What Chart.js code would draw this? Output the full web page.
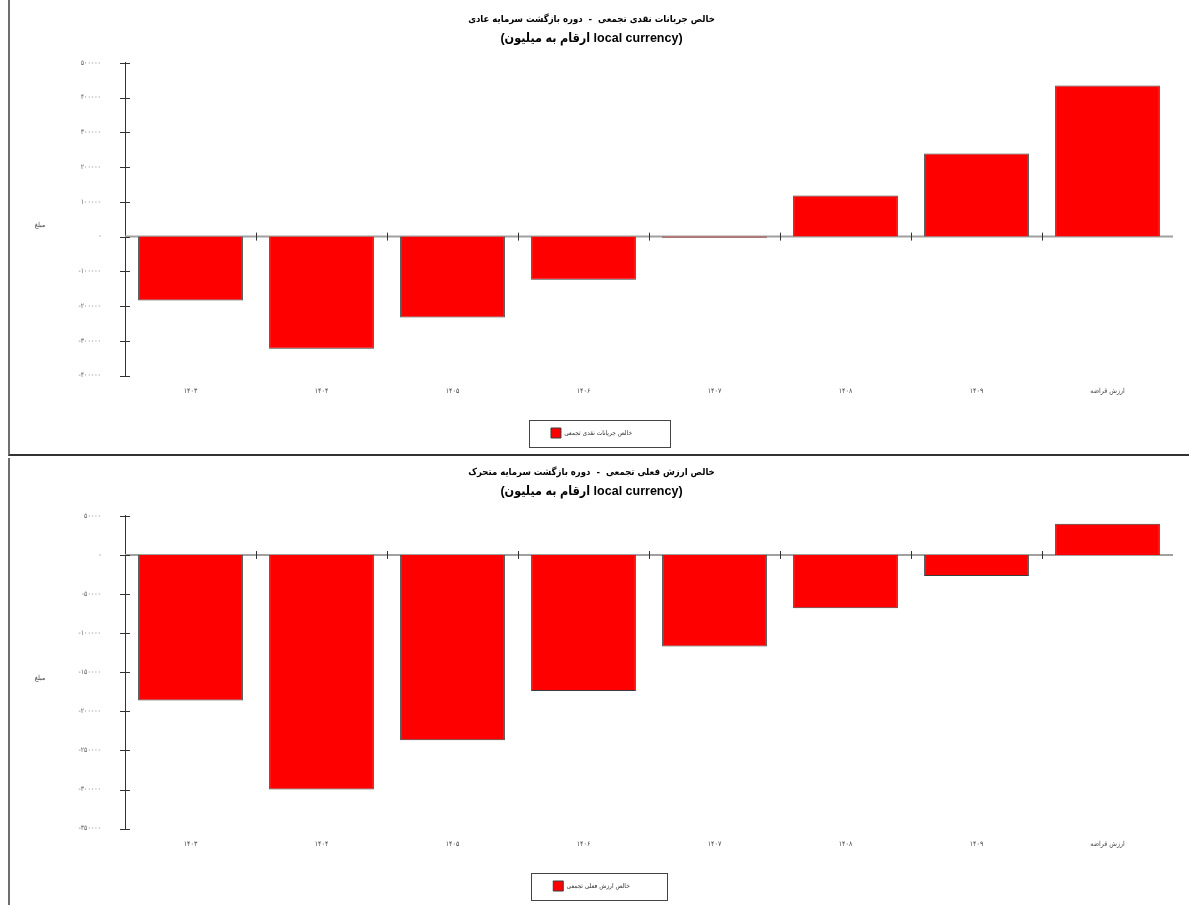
<!DOCTYPE html>
<html>
<head>
<meta charset="utf-8">
<script src="https://cdn.jsdelivr.net/npm/chart.js@4.4.0/dist/chart.umd.min.js"></script>
<style>
  html, body { margin: 0; padding: 0; background: #fff; }
  body { width: 1189px; height: 905px; position: relative; overflow: hidden; }
  .panel { position: absolute; left: 8px; width: 1181px; border-left: 2px solid #6e6e6e; }
  #p1 { top: 0; height: 454px; border-bottom: 2px solid #333; }
  #p2 { top: 458px; height: 447px; overflow: hidden; }
  .panel canvas { position: absolute; left: 0; }
</style>
</head>
<body>
<div class="panel" id="p1"><canvas id="chartTop"></canvas></div>
<div class="panel" id="p2"><canvas id="chartBottom"></canvas></div>
<script>
// categories (years + salvage value)
const categories = ['۱۴۰۳', '۱۴۰۴', '۱۴۰۵', '۱۴۰۶', '۱۴۰۷', '۱۴۰۸', '۱۴۰۹', 'ارزش قراضه'];

// cumulative net cash flow (simple payback)
const cashFlowValues = [-184000, -323000, -233000, -124000, -3000, 118000, 239000, 435000];
// cumulative net present value (dynamic payback)
const npvValues = [-186000, -300000, -237000, -174000, -117000, -68000, -27000, 40000];

const topTitle = 'خالص جریانات نقدی تجمعی  -  دوره بازگشت سرمایه عادی';
const bottomTitle = 'خالص ارزش فعلی تجمعی  -  دوره بازگشت سرمایه متحرک';
const unitsLine = '(ارقام به میلیون local currency)';
const topLegend = 'خالص جریانات نقدی تجمعی';
const bottomLegend = 'خالص ارزش فعلی تجمعی';
const yAxisLabel = 'مبلغ';

const faFont = '"DejaVu Sans Condensed", "DejaVu Sans", sans-serif';
const mixFont = '"Liberation Sans", "DejaVu Sans Condensed", "DejaVu Sans", sans-serif';

function toFa(n) {
    return String(Math.abs(n)).replace(/\d/g, d => '۰۱۲۳۴۵۶۷۸۹'[d]);
}

// zero line, crossing tick marks, axis label and legend frame
const decorPlugin = {
    id: 'decor',
    beforeDatasetsDraw(chart) {
        const ctx = chart.ctx, a = chart.chartArea;
        const zero = chart.scales.y.getPixelForValue(0);
        ctx.save();
        ctx.strokeStyle = '#a0a0a0';
        ctx.lineWidth = 2;
        ctx.beginPath();
        ctx.moveTo(a.left, zero);
        ctx.lineTo(a.right, zero);
        ctx.stroke();
        ctx.restore();
    },
    afterDraw(chart) {
        const ctx = chart.ctx, a = chart.chartArea;
        const xs = chart.scales.x, ys = chart.scales.y;
        const zero = ys.getPixelForValue(0);
        ctx.save();
        ctx.strokeStyle = '#333';
        ctx.lineWidth = 1;
        ctx.beginPath();
        ys.ticks.forEach(t => {
            const py = Math.round(ys.getPixelForValue(t.value)) + 0.5;
            ctx.moveTo(a.left - 5, py);
            ctx.lineTo(a.left + 5, py);
        });
        for (let i = 0; i < categories.length - 1; i++) {
            const px = Math.round((xs.getPixelForValue(i) + xs.getPixelForValue(i + 1)) / 2) + 0.5;
            ctx.moveTo(px, zero - 4);
            ctx.lineTo(px, zero + 4);
        }
        ctx.stroke();

        // horizontal y-axis label
        ctx.fillStyle = '#444';
        ctx.font = '7px ' + faFont;
        ctx.textAlign = 'center';
        ctx.textBaseline = 'middle';
        ctx.fillText(yAxisLabel, 30, (a.top + a.bottom) / 2 + 6);

        // legend frame
        const hb = chart.legend.legendHitBoxes[0];
        if (hb) {
            ctx.strokeStyle = '#444';
            ctx.lineWidth = 1;
            ctx.strokeRect(Math.round(hb.left - 22) + 0.5, Math.round(hb.top - 8) + 0.5,
                Math.round(hb.width + 60), 27);
        }
        ctx.restore();
    }
};

function makeChart(id, title, legendLabel, values, yMin, yMax, yStep, topPad) {
    const canvas = document.getElementById(id);
    canvas.style.top = topPad + 'px';
    canvas.width = 1179;
    canvas.height = 452;
    return new Chart(canvas.getContext('2d'), {
        type: 'bar',
        data: {
            labels: categories,
            datasets: [{
                label: legendLabel,
                data: values,
                backgroundColor: '#ff0000',
                borderColor: '#3c3c3c',
                borderWidth: 1,
                barPercentage: 0.8,
                categoryPercentage: 1.0
            }]
        },
        options: {
            responsive: false,
            animation: false,
            devicePixelRatio: 1,
            layout: { padding: { left: 0, right: 16, top: 0, bottom: 4 } },
            plugins: {
                title: {
                    display: true,
                    text: title,
                    color: '#000',
                    font: { family: faFont, size: 9.5, weight: 'bold', lineHeight: 1.7 },
                    padding: { top: 11, bottom: 2 }
                },
                subtitle: {
                    display: true,
                    text: unitsLine,
                    color: '#000',
                    font: { family: mixFont, size: 12.5, weight: 'bold', lineHeight: 1.5 },
                    padding: { top: 0, bottom: 15 }
                },
                legend: {
                    position: 'bottom',
                    labels: {
                        boxWidth: 10,
                        boxHeight: 10,
                        color: '#333',
                        font: { family: faFont, size: 6.5 },
                        padding: 4
                    }
                },
                tooltip: { enabled: false }
            },
            scales: {
                x: {
                    afterFit(scale) { scale.height += 26; },
                    grid: { display: false },
                    border: { display: false },
                    ticks: {
                        color: '#444',
                        font: { family: faFont, size: 7 },
                        padding: 3,
                        maxRotation: 0
                    }
                },
                y: {
                    min: yMin,
                    max: yMax,
                    afterFit(scale) { scale.width = 115; },
                    grid: { display: false },
                    border: { display: true, color: '#333', width: 1 },
                    ticks: {
                        stepSize: yStep,
                        color: '#666',
                        font: { family: faFont, size: 7 },
                        padding: 16,
                        callback: v => v === 0 ? '-' : (v < 0 ? '-' : '') + toFa(v)
                    }
                }
            }
        },
        plugins: [decorPlugin]
    });
}

makeChart('chartTop', topTitle, topLegend, cashFlowValues, -400000, 500000, 100000, 0);
makeChart('chartBottom', bottomTitle, bottomLegend, npvValues, -350000, 50000, 50000, -5);
</script>
</body>
</html>
